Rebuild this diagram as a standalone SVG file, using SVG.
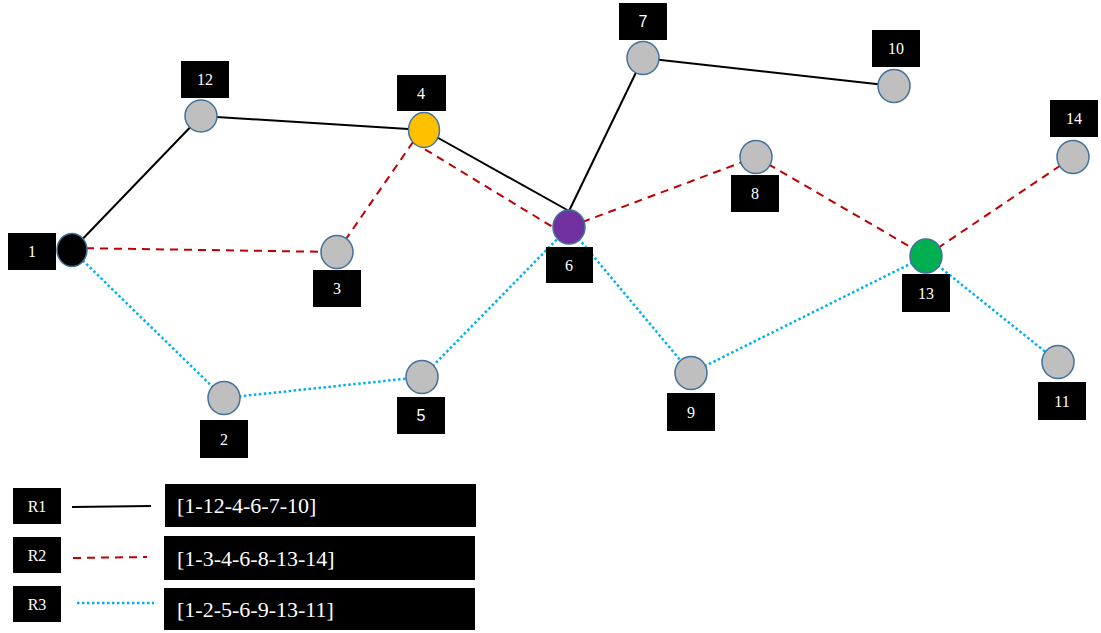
<svg xmlns="http://www.w3.org/2000/svg" width="1101" height="633" viewBox="0 0 1101 633">
<style>
.lb{fill:#000}
.lt{fill:#fff;font-family:"Liberation Serif",serif;font-size:16px;text-anchor:middle}
.ls{fill:#fff;font-family:"Liberation Sans",sans-serif;font-size:16px;text-anchor:middle}
.bt{fill:#fff;font-family:"Liberation Serif",serif;font-size:22px}
.r1{stroke:#000;stroke-width:2;fill:none}
.r2{stroke:#C00000;stroke-width:2;stroke-dasharray:8 6;fill:none}
.r3{stroke:#00B0F0;stroke-width:2.5;stroke-dasharray:2.5 2.5;fill:none}
.n{fill:#BFBFBF;stroke:#41719C;stroke-width:1.5}
</style>
<rect width="1101" height="633" fill="#fff"/>
<g id="connectors">
<line class="r1" x1="72" y1="250" x2="201" y2="116"/>
<line class="r1" x1="201" y1="116" x2="424" y2="130"/>
<line class="r1" x1="424" y1="130" x2="569" y2="211"/>
<line class="r1" x1="569" y1="211" x2="643" y2="58"/>
<line class="r1" x1="643" y1="58" x2="894" y2="86"/>
<line class="r2" x1="72" y1="248" x2="337" y2="252"/>
<line class="r2" x1="337" y1="252" x2="413" y2="142"/>
<line class="r2" x1="413" y1="142" x2="556" y2="229"/>
<line class="r2" x1="569" y1="227" x2="756" y2="157"/>
<line class="r2" x1="756" y1="157" x2="926" y2="256"/>
<line class="r2" x1="926" y1="256" x2="1073" y2="157"/>
<line class="r3" x1="72" y1="250" x2="224" y2="398"/>
<line class="r3" x1="224" y1="398" x2="422" y2="377"/>
<line class="r3" x1="422" y1="377" x2="569" y2="227"/>
<line class="r3" x1="569" y1="227" x2="691" y2="373"/>
<line class="r3" x1="691" y1="373" x2="926" y2="256"/>
<line class="r3" x1="926" y1="256" x2="1058" y2="362"/>
</g>
<g id="node1"><ellipse cx="72" cy="250" rx="15" ry="16.5" fill="#000" stroke="#41719C" stroke-width="1.5"/><rect class="lb" x="8" y="233" width="48" height="37"/><text class="lt" x="32" y="257">1</text></g>
<g id="node12"><ellipse class="n" cx="201" cy="116" rx="16" ry="16"/><rect class="lb" x="181" y="61" width="48" height="37"/><text class="lt" x="205" y="85">12</text></g>
<g id="node4"><ellipse cx="424" cy="130" rx="15.5" ry="17.5" fill="#FFC000" stroke="#41719C" stroke-width="1.5"/><rect class="lb" x="397" y="75" width="49" height="36"/><text class="lt" x="421" y="99">4</text></g>
<g id="node3"><ellipse class="n" cx="337" cy="252" rx="16" ry="16.5"/><rect class="lb" x="313" y="270" width="48" height="37"/><text class="lt" x="337" y="294">3</text></g>
<g id="node6"><ellipse cx="569" cy="227" rx="16" ry="17" fill="#7030A0" stroke="#41719C" stroke-width="1.5"/><rect class="lb" x="546" y="247" width="47" height="36"/><text class="lt" x="569" y="271">6</text></g>
<g id="node7"><ellipse class="n" cx="643" cy="58" rx="16" ry="16.5"/><rect class="lb" x="619" y="3" width="48" height="37"/><text class="ls" x="643" y="27">7</text></g>
<g id="node10"><ellipse class="n" cx="894" cy="86" rx="16" ry="16.5"/><rect class="lb" x="872" y="30" width="48" height="37"/><text class="lt" x="896" y="54">10</text></g>
<g id="node8"><ellipse class="n" cx="756" cy="157" rx="16" ry="16.5"/><rect class="lb" x="731" y="175" width="48" height="37"/><text class="lt" x="755" y="199">8</text></g>
<g id="node13"><ellipse cx="926" cy="256" rx="16" ry="17" fill="#00B050" stroke="#41719C" stroke-width="1.5"/><rect class="lb" x="902" y="274" width="48" height="38"/><text class="lt" x="926" y="299">13</text></g>
<g id="node14"><ellipse class="n" cx="1073" cy="157" rx="16" ry="16.5"/><rect class="lb" x="1050" y="100" width="48" height="37"/><text class="lt" x="1074" y="124">14</text></g>
<g id="node2"><ellipse class="n" cx="224" cy="398" rx="16" ry="16.5"/><rect class="lb" x="200" y="420" width="48" height="38"/><text class="lt" x="224" y="445">2</text></g>
<g id="node5"><ellipse class="n" cx="422" cy="377" rx="16" ry="16.5"/><rect class="lb" x="397" y="397" width="48" height="37"/><text class="ls" x="421" y="421">5</text></g>
<g id="node9"><ellipse class="n" cx="691" cy="373" rx="16" ry="16.5"/><rect class="lb" x="667" y="393" width="48" height="38"/><text class="lt" x="691" y="418">9</text></g>
<g id="node11"><ellipse class="n" cx="1058" cy="362" rx="16" ry="16.5"/><rect class="lb" x="1038" y="382" width="48" height="38"/><text class="lt" x="1062" y="407">11</text></g>
<g id="legend">
<rect class="lb" x="13" y="488" width="48" height="36"/><text class="lt" x="37" y="512">R1</text>
<line class="r1" x1="72" y1="507" x2="151" y2="506"/>
<rect class="lb" x="165" y="484" width="311" height="43"/><text class="bt" x="177" y="513">[1-12-4-6-7-10]</text>
<rect class="lb" x="13" y="537" width="48" height="36"/><text class="lt" x="37" y="561">R2</text>
<line class="r2" x1="73" y1="558" x2="147" y2="557"/>
<rect class="lb" x="164" y="536" width="311" height="44"/><text class="bt" x="177" y="566">[1-3-4-6-8-13-14]</text>
<rect class="lb" x="13" y="586" width="48" height="36"/><text class="lt" x="37" y="610">R3</text>
<line class="r3" x1="77" y1="603" x2="154" y2="603"/>
<rect class="lb" x="164" y="588" width="311" height="42"/><text class="bt" x="177" y="617">[1-2-5-6-9-13-11]</text>
</g>
</svg>
